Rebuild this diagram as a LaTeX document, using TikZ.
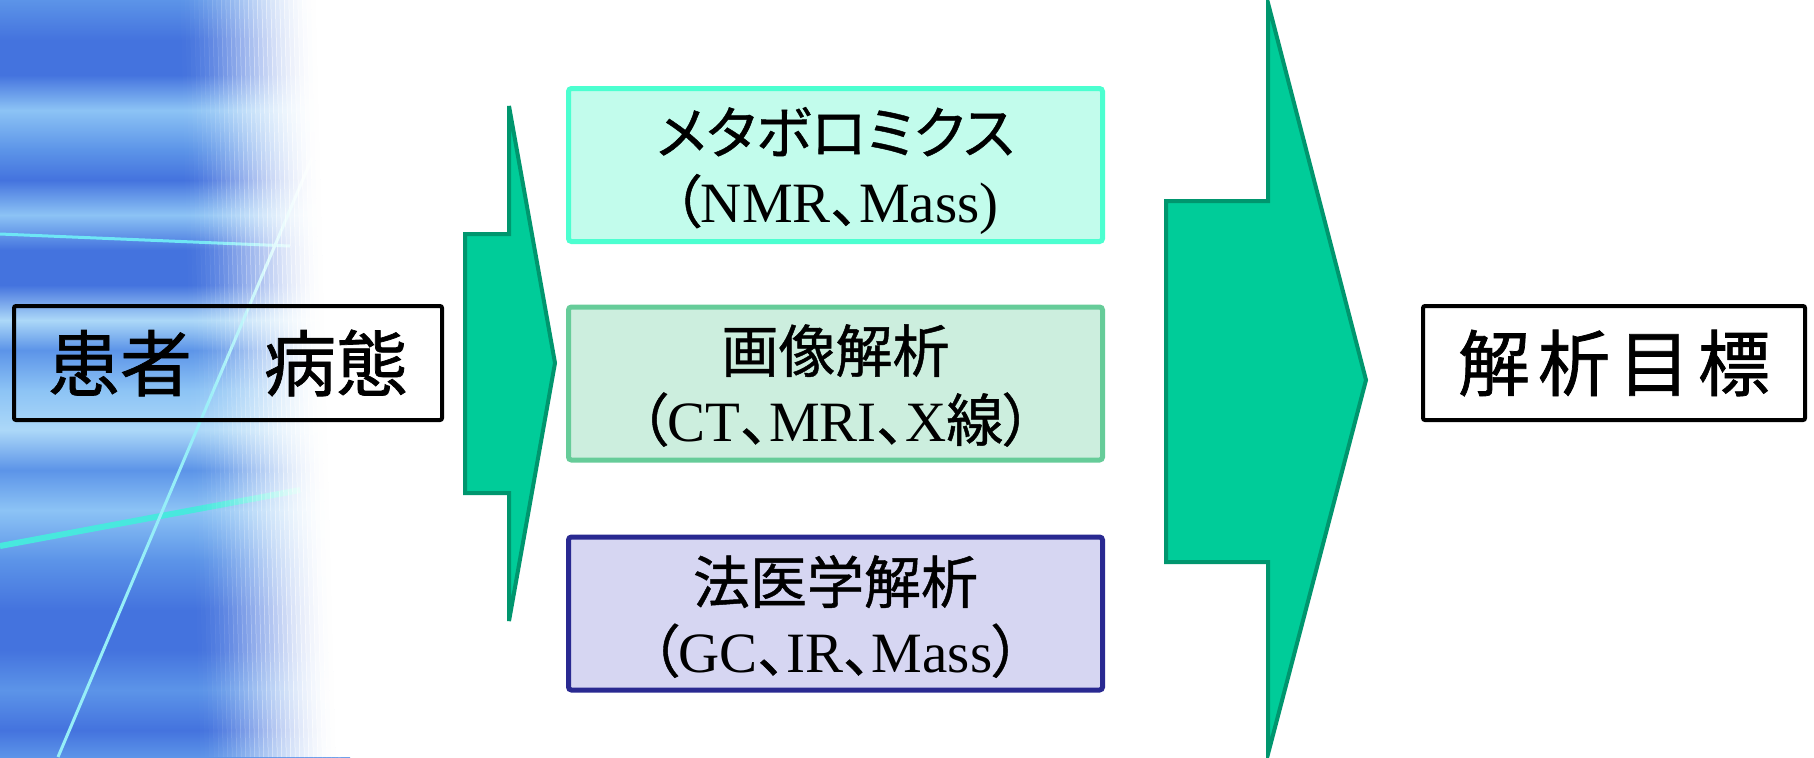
\documentclass[tikz,border=0pt]{standalone}
\usepackage{fontspec}
\setmainfont{Liberation Serif}
\newfontfamily\jp{Noto Sans CJK JP}[FakeBold=1]
\newfontfamily\jpp{Noto Sans CJK JP}[RawFeature=+palt,FakeBold=0.8]
\definecolor{bDeep}{RGB}{68,115,222}
\definecolor{bMid}{RGB}{92,148,232}
\definecolor{bLight}{RGB}{140,195,245}
\definecolor{bPale}{RGB}{172,216,248}
\definecolor{lineA}{RGB}{110,230,245}
\definecolor{lineB}{RGB}{72,232,222}
\definecolor{lineC}{RGB}{150,238,248}
\definecolor{arrF}{RGB}{0,204,153}
\definecolor{arrD}{RGB}{0,150,110}
\definecolor{boxAf}{RGB}{194,252,236}
\definecolor{boxAd}{RGB}{76,255,208}
\definecolor{boxBf}{RGB}{204,238,222}
\definecolor{boxBd}{RGB}{102,204,153}
\definecolor{boxCf}{RGB}{214,214,242}
\definecolor{boxCd}{RGB}{41,41,145}
\pgfdeclareverticalshading{streaks}{100bp}{color(0bp)=(bMid); color(25bp)=(bMid); color(26.78bp)=(bDeep); color(29.43bp)=(bMid); color(32.07bp)=(bDeep); color(34.71bp)=(bDeep); color(38.01bp)=(bMid); color(41.31bp)=(bLight); color(43.96bp)=(bMid); color(46.6bp)=(bPale); color(49.24bp)=(bLight); color(51.88bp)=(bMid); color(53.86bp)=(bPale); color(56.18bp)=(bDeep); color(58.49bp)=(bDeep); color(60.8bp)=(bLight); color(63.11bp)=(bDeep); color(65.09bp)=(bMid); color(67.73bp)=(bLight); color(70.05bp)=(bDeep); color(72.36bp)=(bDeep); color(75bp)=(bMid); color(100bp)=(bMid)}
\tikzset{
  tbox/.style={draw=black, line width=2pt, rounded corners=1pt, inner sep=0pt,
    minimum height=57pt, font=\jp\fontsize{36}{40}\selectfont},
  cbox/.style={line width=2.5pt, rounded corners=1.5pt, inner sep=0pt,
    minimum width=267pt, minimum height=76.5pt},
  ctext/.style={align=center, inner sep=0pt, font=\fontsize{28.5}{34.5}\selectfont},
  arrowshape/.style={fill=arrF, draw=arrD, line width=2pt, line join=miter}
}
\begin{document}
\begin{tikzpicture}[x=0.5pt,y=-0.5pt]
\useasboundingbox (0,0) rectangle (1814,757);
% background
\shade[shading=streaks] (0,0) rectangle (350,757);
\draw[lineA, line width=1.5pt] (0,234) -- (290,246);
\draw[lineB, line width=3pt] (0,546) -- (300,490);
\draw[lineC, line width=1.5pt] (58,757) -- (312,158);
\foreach \i [evaluate=\i as \op using {((\i+1)/32)^2*(3-2*(\i+1)/32)}] in {0,...,31}{
  \fill[white, opacity=\op] (176+\i*4.5,0) -- (181+\i*4.5,0) -- (201+\i*4.5,757) -- (196+\i*4.5,757) -- cycle;
}
\fill[white] (318,0) -- (1814,0) -- (1814,757) -- (338,757) -- cycle;
% arrows
\draw[arrowshape] (465,234) -- (509,234) -- (509,106) -- (555,363) -- (509,621) -- (509,493) -- (465,493) -- cycle;
\draw[arrowshape] (1166,201) -- (1268,201) -- (1268,3) -- (1366,380) -- (1268,754) -- (1268,562) -- (1166,562) -- cycle;
% nodes
\node[tbox, minimum width=214pt] (patient) at (228,363) {患者　病態};
\node[tbox, minimum width=191pt, fill=white] (target) at (1614,363) {解\kern4pt 析\kern4pt 目\kern4pt 標};
\node[cbox, draw=boxAd, fill=boxAf] (meta) at (835.5,165) {};
\node[ctext] (metaT) at ([yshift=-3pt]meta.center) {{\jpp メタボロミクス}\\{\jpp （}NMR{\jpp 、}Mass)};
\node[cbox, draw=boxBd, fill=boxBf] (image) at (835.5,383.5) {};
\node[ctext] (imageT) at ([yshift=-1pt]image.center) {{\jpp 画像解析}\\{\jpp （}CT{\jpp 、}MRI{\jpp 、}X{\jpp 線）}};
\node[cbox, draw=boxCd, fill=boxCf] (forensic) at (835.5,613.5) {};
\node[ctext] (forensicT) at ([yshift=-1.5pt]forensic.center) {{\jpp 法医学解析}\\{\jpp （}GC{\jpp 、}IR{\jpp 、}Mass{\jpp ）}};
\end{tikzpicture}
\end{document}
